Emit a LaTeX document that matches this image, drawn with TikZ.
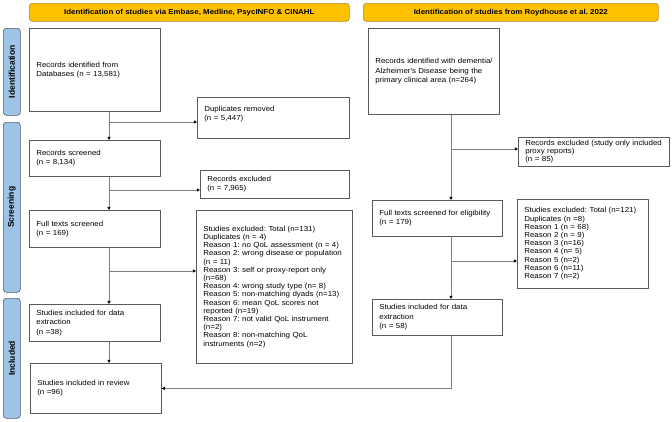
\documentclass[tikz,border=0pt]{standalone}
\usepackage{fontspec}
\setmainfont{Liberation Sans}
\newfontfamily\wfont[FakeStretch=1.085]{Liberation Sans}
\newfontfamily\bwfont[FakeStretch=1.1]{Liberation Sans Bold}
\usetikzlibrary{arrows.meta}
\frenchspacing
\hyphenpenalty=10000
\exhyphenpenalty=10000
\definecolor{boxgray}{HTML}{5A5A5A}
\definecolor{linegray}{HTML}{808080}
\definecolor{banyellow}{HTML}{FFC000}
\definecolor{banborder}{HTML}{B08A1E}
\definecolor{sideblue}{HTML}{9DC3E6}
\definecolor{sideborder}{HTML}{4A5A6A}
\tikzset{
  x=1pt, y=-1pt,
  box/.style={draw=boxgray, line width=0.7pt, anchor=north west, align=left,
    inner xsep=7pt, inner ysep=2pt,
    font=\wfont\fontsize{7.3}{9.3}\selectfont},
  bigbox/.style={box, font=\wfont\fontsize{7.3}{8.2}\selectfont},
  banner/.style={draw=banborder, fill=banyellow, rounded corners=3pt, line width=0.6pt,
    font=\bwfont\fontsize{7.2}{8}\selectfont, anchor=north west, inner sep=0pt},
  side/.style={draw=sideborder, fill=sideblue, rounded corners=3pt, line width=0.6pt,
    anchor=north west, inner sep=0pt},
  sidetext/.style={rotate=90, font=\bfseries\fontsize{8.5}{9}\selectfont},
  arr/.style={draw=linegray, line width=0.8pt, -{Triangle[length=3.2pt,width=3.2pt,color=black]}},
}
\begin{document}
\begin{tikzpicture}
\useasboundingbox (0,0) rectangle (672,421);
% banners
\node[banner, minimum width=320pt, minimum height=18pt] (banL) at (29,3) {Identification of studies via Embase, Medline, PsycINFO \& CINAHL};
\node[banner, minimum width=295pt, minimum height=18pt] (banR) at (363,3) {Identification of studies from Roydhouse et al. 2022};
% side labels
\node[side, minimum width=17pt, minimum height=87pt] (sideI) at (3,28) {};
\node[sidetext] at (sideI.center) {Identification};
\node[side, minimum width=17pt, minimum height=170pt] (sideS) at (3,122) {};
\node[sidetext] at (sideS.center) {Screening};
\node[side, minimum width=17pt, minimum height=120pt] (sideC) at (3,298) {};
\node[sidetext] at (sideC.center) {Included};
% left column
\node[box, text width=117pt, minimum height=83pt] (rid) at (29,28) {Records identified from\\Databases (n = 13,581)};
\node[box, text width=138pt, minimum height=41pt] (dup) at (197,97) {Duplicates removed\\(n = 5,447)\\\mbox{}};
\node[box, text width=117pt, minimum height=36pt] (rs) at (29,140) {Records screened\\(n = 8,134)};
\node[box, text width=135pt, minimum height=28pt] (rex) at (200,170) {Records excluded\\(n = 7,965)};
\node[box, text width=117pt, minimum height=37pt] (fts) at (29,210) {Full texts screened\\(n = 169)};
\node[bigbox, text width=142pt, minimum height=153pt] (sex) at (196,210) {Studies excluded: Total (n=131)\\Duplicates (n = 4)\\Reason 1: no QoL assessment (n = 4)\\Reason 2: wrong disease or population\\(n = 11)\\Reason 3: self or proxy-report only\\(n=68)\\Reason 4: wrong study type (n= 8)\\Reason 5: non-matching dyads (n=13)\\Reason 6: mean QoL scores not\\reported (n=19)\\Reason 7: not valid QoL instrument\\(n=2)\\Reason 8: non-matching QoL\\instruments (n=2)};
\node[box, text width=117pt, minimum height=37pt] (sde) at (29,304) {Studies included for data\\extraction\\(n =38)};
\node[box, text width=117pt, minimum height=50pt] (sir) at (30,363) {Studies included in review\\(n =96)};
% right column
\node[box, text width=117pt, minimum height=86pt] (rid2) at (368,28) {\mbox{Records identified with dementia/}\\Alzheimer's Disease being the\\primary clinical area (n=264)};
\node[bigbox, text width=137pt, minimum height=29pt] (rex2) at (518,137) {\mbox{Records excluded (study only included}\\proxy reports)\\(n = 85)};
\node[box, text width=116pt, minimum height=36pt] (fts2) at (372,200) {Full texts screened for eligibility\\(n = 179)};
\node[bigbox, text width=117pt, minimum height=89pt] (sex2) at (517,199) {Studies excluded: Total (n=121)\\Duplicates (n =8)\\Reason 1 (n = 68)\\Reason 2 (n = 9)\\Reason 3 (n=16)\\Reason 4 (n= 5)\\Reason 5 (n=2)\\Reason 6 (n=11)\\Reason 7 (n=2)};
\node[box, text width=116pt, minimum height=36pt] (sde2) at (372,299) {Studies included for data\\extraction\\(n = 58)};
% helper coordinates
\coordinate (xl) at (109,0);
\coordinate (xr) at (451,0);
\coordinate (b1) at (109,122);
\coordinate (b2) at (109,190);
\coordinate (b3) at (109,271);
\coordinate (b4) at (451,149);
\coordinate (b5) at (451,261);
% left arrows
\draw[arr] (rid.south -| xl) -- (rs.north -| xl);
\draw[arr] (b1) -- (b1 -| dup.west);
\draw[arr] (rs.south -| xl) -- (fts.north -| xl);
\draw[arr] (b2) -- (b2 -| rex.west);
\draw[arr] (fts.south -| xl) -- (sde.north -| xl);
\draw[arr] (b3) -- (b3 -| sex.west);
\draw[arr] (sde.south -| xl) -- (sir.north -| xl);
% right arrows
\draw[arr] (rid2.south -| xr) -- (fts2.north -| xr);
\draw[arr] (b4) -- (b4 -| rex2.west);
\draw[arr] (fts2.south -| xr) -- (sde2.north -| xr);
\draw[arr] (b5) -- (b5 -| sex2.west);
\draw[arr] (sde2.south -| xr) |- (sir.east);
\end{tikzpicture}
\end{document}
